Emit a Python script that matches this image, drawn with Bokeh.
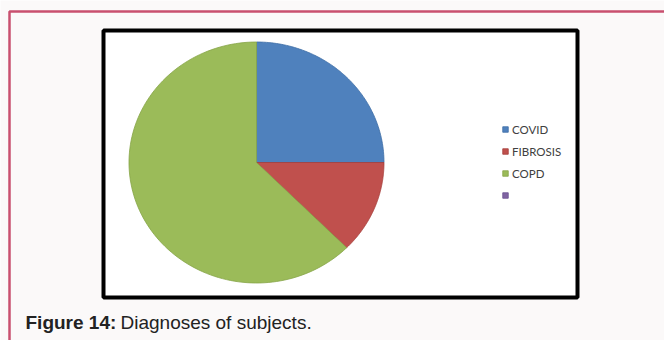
import numpy as np
from bokeh.plotting import figure
from bokeh.models import Range1d, ColumnDataSource
from bokeh.core.properties import value
from bokeh.embed import file_html
from bokeh.resources import INLINE

# ---- data ----
categories = ["COVID", "FIBROSIS", "COPD", ""]
counts = [25, 12.5, 62.5, 0]
colors = ["#4f81bd", "#c0504d", "#9bbb59", "#8064a2"]
edge_colors = ["#3d6da6", "#a43d3a", "#86a548", "#6a5090"]
caption_bold = "Figure 14:"
caption_text = "Diagnoses of subjects."

W, H = 664, 340
p = figure(width=W, height=H, output_backend="svg", toolbar_location=None,
           x_range=Range1d(0, W), y_range=Range1d(H, 0), min_border=0)
p.axis.visible = False
p.grid.visible = False
p.outline_line_color = None
p.background_fill_color = "#fbf9f9"
p.border_fill_color = "#fbf9f9"

# pink page frame
p.line(x=[9, 9, W + 5], y=[H + 5, 11, 11], line_color="#c9506f", line_width=2.5)

# chart box
p.quad(left=[103], right=[577], top=[30], bottom=[297],
       fill_color="white", line_color="black", line_width=4)

# pie (ellipse slightly wider than tall, as in the image)
cx, cy, rx, ry = 256, 162, 127.5, 120.5
total = float(sum(counts))
xs, ys, fills, lines = [], [], [], []
start = 0.0
for c, col, ec in zip(counts, colors, edge_colors):
    if c <= 0:
        continue
    end = start + 2 * np.pi * c / total
    th = np.linspace(start, end, 120)
    px = np.concatenate([[cx], cx + rx * np.sin(th), [cx]])
    py = np.concatenate([[cy], cy - ry * np.cos(th), [cy]])
    xs.append(list(px)); ys.append(list(py))
    fills.append(col); lines.append(ec)
    start = end
p.patches(xs="xs", ys="ys", fill_color="fills", line_color="lines", line_width=0.8,
          source=ColumnDataSource(dict(xs=xs, ys=ys, fills=fills, lines=lines)))

# legend
lx, ly0, dy = 505, 129, 22
leg_y = [ly0 + i * dy for i in range(len(categories))]
p.rect(x=[lx] * len(categories), y=leg_y, width=5.5, height=5.5,
       fill_color=colors, line_color=edge_colors, line_width=0.8)
p.text(x=[lx + 6.5] * len(categories), y=leg_y, text=categories,
       text_font=value("Lato"), text_font_size="11.5px", text_color="#404040",
       text_baseline="middle", text_align="left")

# caption
p.text(x=[25], y=[322], text=[caption_bold], text_font=value("Liberation Sans"),
       text_font_size="19px", text_font_style="bold", text_color="#222222",
       text_baseline="alphabetic")
p.text(x=[120], y=[322], text=[caption_text], text_font=value("Liberation Sans"),
       text_font_size="19px", text_color="#222222", text_baseline="alphabetic")

open("out.html", "w").write(file_html(p, INLINE))
